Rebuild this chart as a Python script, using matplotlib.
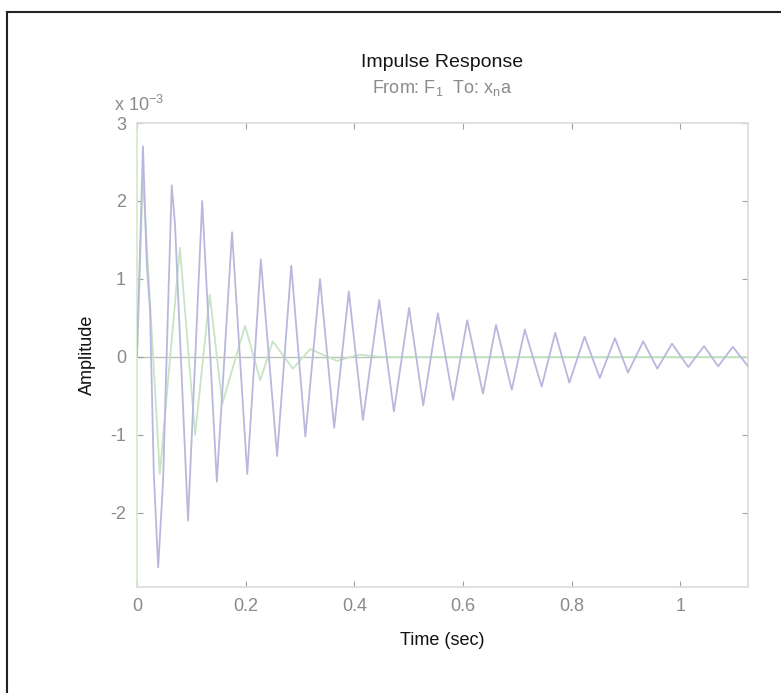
import matplotlib.pyplot as plt
from matplotlib.lines import Line2D

plt.rcParams['font.family'] = ['Liberation Sans', 'DejaVu Sans']
plt.rcParams['mathtext.fontset'] = 'custom'
plt.rcParams['mathtext.rm'] = 'Liberation Sans'
plt.rcParams['mathtext.default'] = 'regular'

# amplitudes in units of 1e-3 (peaks and troughs)
t_blue = [0.000, 0.011, 0.018, 0.024, 0.031, 0.039, 0.048, 0.057, 0.064, 0.070,
          0.094, 0.120, 0.147, 0.175, 0.203, 0.228, 0.258, 0.284, 0.310, 0.337,
          0.363, 0.390, 0.416, 0.446, 0.473, 0.501, 0.527, 0.554, 0.582, 0.608,
          0.637, 0.661, 0.690, 0.714, 0.745, 0.770, 0.796, 0.824, 0.852, 0.880,
          0.904, 0.932, 0.958, 0.985, 1.015, 1.044, 1.070, 1.097, 1.125]
a_blue = [0.0, 2.7, 1.2, 0.6, -1.5, -2.7, -1.6, 0.6, 2.2, 1.7,
          -2.1, 2.0, -1.6, 1.6, -1.5, 1.25, -1.27, 1.17, -1.02, 1.0,
          -0.91, 0.84, -0.81, 0.73, -0.7, 0.63, -0.62, 0.56, -0.55, 0.47,
          -0.47, 0.41, -0.42, 0.35, -0.38, 0.31, -0.33, 0.26, -0.27, 0.24,
          -0.2, 0.2, -0.15, 0.17, -0.13, 0.14, -0.12, 0.13, -0.12]

t_green = [0.000, 0.011, 0.042, 0.079, 0.107, 0.134, 0.157, 0.199, 0.227,
           0.250, 0.287, 0.319, 0.368, 0.410, 0.450, 1.125]
a_green = [0.0, 2.3, -1.5, 1.4, -1.0, 0.8, -0.6, 0.4, -0.3,
           0.2, -0.15, 0.1, -0.05, 0.03, 0.0, 0.0]

xticks = [0, 0.2, 0.4, 0.6, 0.8, 1]
yticks = [-2, -1, 0, 1, 2, 3]

fig = plt.figure(figsize=(7.81, 6.93), dpi=100)
ax = fig.add_axes([0.1754, 0.153, 0.7824, 0.6695])

ax.axhline(0, color='#b8c4b8', lw=1.0, zorder=1)
ax.plot(t_green, a_green, color='#c8e4c4', lw=1.3, zorder=2)
ax.plot(t_blue, a_blue, color='#b8b8de', lw=1.3, zorder=3)

ax.set_xlim(0, 1.125)
ax.set_ylim(-2.95, 3)
ax.set_xticks(xticks)
ax.set_xticklabels(['0', '0.2', '0.4', '0.6', '0.8', '1'])
ax.set_yticks(yticks)
ax.set_yticklabels([str(v) for v in yticks])
ax.tick_params(direction='in', length=4, color='#a0a0a0', labelcolor='#8a8a8a',
               labelsize=13, top=True, right=True, pad=8)
for s in ax.spines.values():
    s.set_color('#dcdcdc')
    s.set_linewidth(1.2)
ax.spines['left'].set_color('#d4eac8')

ax.set_xlabel('Time (sec)', fontsize=13, color='#111111', labelpad=12)
ax.set_ylabel('Amplitude', fontsize=13, color='#111111', labelpad=10)

fig.text(0.566, 0.91, 'Impulse Response', ha='center', va='center', fontsize=14, color='#151515')
fig.text(0.566, 0.873, 'From: F$_1$  To: x$_n$a', ha='center', va='center', fontsize=13, color='#8a8a8a')
fig.text(0.178, 0.848, 'x 10$^{-3}$', ha='center', va='center', fontsize=13, color='#8a8a8a')

# outer frame (left and top edges visible)
fig.add_artist(Line2D([0.009, 0.009], [0.0, 0.983], color='#222222', lw=1.5))
fig.add_artist(Line2D([0.009, 1.0], [0.983, 0.983], color='#222222', lw=1.5))

fig.savefig('out.png', dpi=100)
